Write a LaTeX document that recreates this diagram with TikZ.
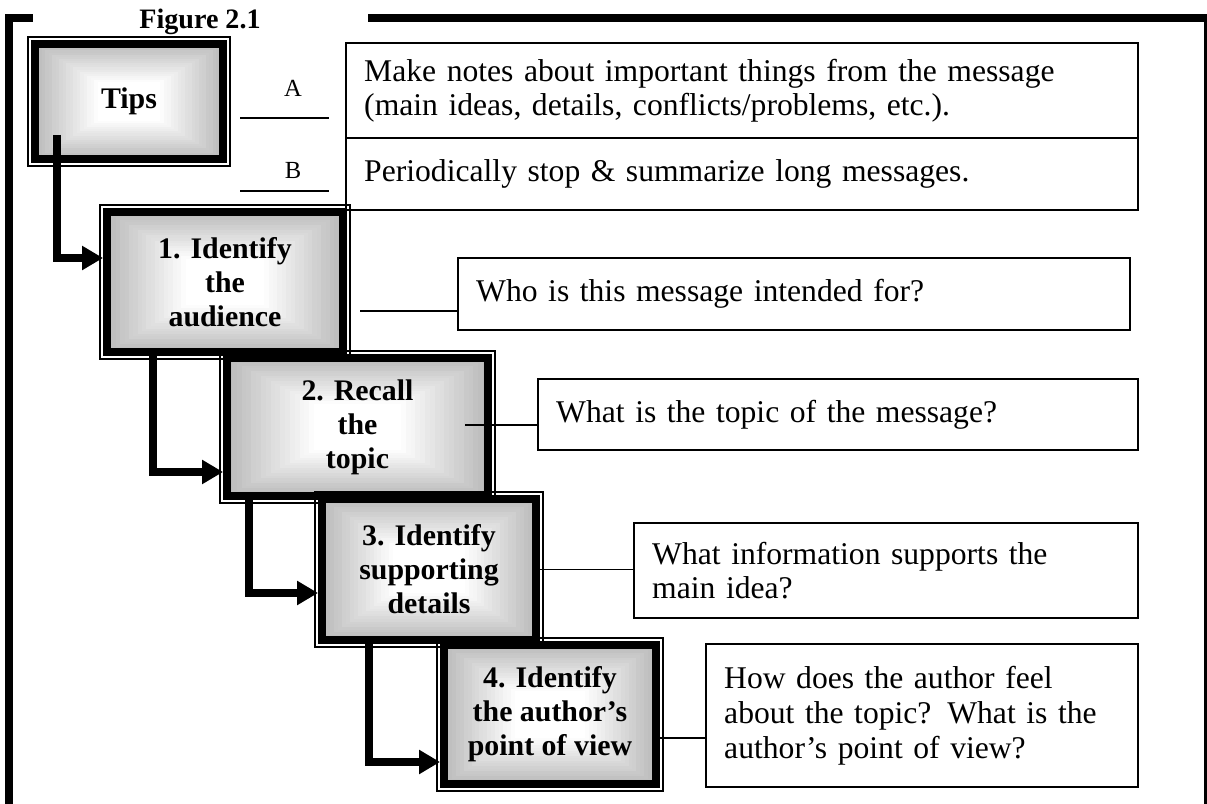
\documentclass[tikz,border=0pt]{standalone}
\usepackage{fontspec}
\setmainfont{Liberation Serif}
\usetikzlibrary{calc, arrows.meta}

\tikzset{
  stepbox/.style={draw=black, line width=4.5pt, inner sep=0pt, align=center,
    font=\bfseries\fontsize{17}{19.3}\selectfont,
    preaction={path picture={
      \foreach \k [evaluate=\k as \g using int(27-27*\k/18)] in {0,...,18}
        \fill[black!\g!white] ($(path picture bounding box.south west)!\k/54!(path picture bounding box.north east)$)
          rectangle ($(path picture bounding box.north east)!\k/54!(path picture bounding box.south west)$);
    }}},
  stepframe/.style={draw=black, line width=0.9pt},
  notebox/.style={draw=black, line width=1.4pt, anchor=north west, align=left,
    inner xsep=0.36cm, inner ysep=0pt, font=\fontsize{18}{19.7}\selectfont},
  flowarrow/.style={line width=4.5pt, -{Triangle[length=0.42cm, width=0.46cm]}},
  linkline/.style={line width=1.1pt},
}

\begin{document}
\begin{tikzpicture}[x=0.02cm, y=-0.02cm]
\useasboundingbox (0,0) rectangle (1207,804);

% frame round the figure
\draw[line width=4.5pt] (9,804) -- (9,18) -- (33,18);
\draw[line width=4.5pt] (368,18) -- (1207,18);
\draw[line width=1.7pt] (1205,16) -- (1205,804);
\node[font=\bfseries\fontsize{16}{18}\selectfont] (title) at (200,22) {Figure 2.1};

% tips
\node[notebox, text width=15.12cm, minimum height=1.9cm] (noteA) at (345,42)
  {Make notes about important things from the message\\(main ideas, details, conflicts/problems, etc.).};
\node[notebox, text width=15.12cm, minimum height=1.44cm] (noteB) at (345,137)
  {Periodically stop \& summarize long messages.};
\node[font=\fontsize{14}{16}\selectfont] (labA) at (293,88) {A};
\node[font=\fontsize{14}{16}\selectfont] (labB) at (293,170) {B};
\coordinate (blankA) at (240,118);
\coordinate (blankB) at (240,191);
\draw[linkline] (blankA) -- ++(89,0);
\draw[linkline] (blankB) -- ++(89,0);

% steps
\node[stepbox, minimum width=3.76cm, minimum height=2.30cm] (tips) at (129,101.5) {Tips};
\draw[stepframe] ([shift={(-3,-3)}]tips.north west) rectangle ([shift={(3,3)}]tips.south east);
\node[stepbox, minimum width=4.72cm, minimum height=2.80cm] (s1) at (225,282) {1. Identify\\the\\audience};
\draw[stepframe] ([shift={(-3,-3)}]s1.north west) rectangle ([shift={(3,3)}]s1.south east);
\node[stepbox, minimum width=5.22cm, minimum height=2.76cm] (s2) at (357.5,427) {2. Recall\\the\\topic};
\draw[stepframe] ([shift={(-3,-3)}]s2.north west) rectangle ([shift={(3,3)}]s2.south east);
\node[stepbox, minimum width=4.28cm, minimum height=2.82cm] (s3) at (429,569.5) {3. Identify\\supporting\\details};
\draw[stepframe] ([shift={(-3,-3)}]s3.north west) rectangle ([shift={(3,3)}]s3.south east);
\node[stepbox, minimum width=4.24cm, minimum height=2.78cm] (s4) at (550,714.5) {4. Identify\\the author’s\\point of view};
\draw[stepframe] ([shift={(-3,-3)}]s4.north west) rectangle ([shift={(3,3)}]s4.south east);

% questions
\node[notebox, text width=12.72cm, minimum height=1.44cm] (q1) at (457,257) {Who is this message intended for?};
\node[notebox, text width=11.28cm, minimum height=1.42cm] (q2) at (537,378) {What is the topic of the message?};
\node[notebox, text width=9.36cm, minimum height=1.9cm] (q3) at (633,522) {What information supports the\\main idea?};
\node[notebox, text width=7.92cm, minimum height=2.86cm] (q4) at (705,643) {How does the author feel\\about the topic? What is the\\author’s point of view?};

\coordinate (l1) at (360,311);
\coordinate (l2) at (465,425);
\coordinate (l4) at (658,738);
\draw[linkline] (l1) -- (l1 -| q1.west);
\draw[linkline] (l2) -- (l2 -| q2.west);
\draw[linkline] (s3.east) -- (s3.east -| q3.west);
\draw[linkline] (l4) -- (l4 -| q4.west);

% arrows
\draw[flowarrow] ([shift={(26,-28)}]tips.south west) |- ([yshift=0.48cm]s1.west);
\draw[flowarrow] ([xshift=1cm]s1.south west) |- ([yshift=-0.9cm]s2.west);
\draw[flowarrow] ([xshift=0.52cm]s2.south west) |- ([yshift=-0.47cm]s3.west);
\draw[flowarrow] ([xshift=1.02cm]s3.south west) |- ([yshift=-0.95cm]s4.west);
\end{tikzpicture}
\end{document}
